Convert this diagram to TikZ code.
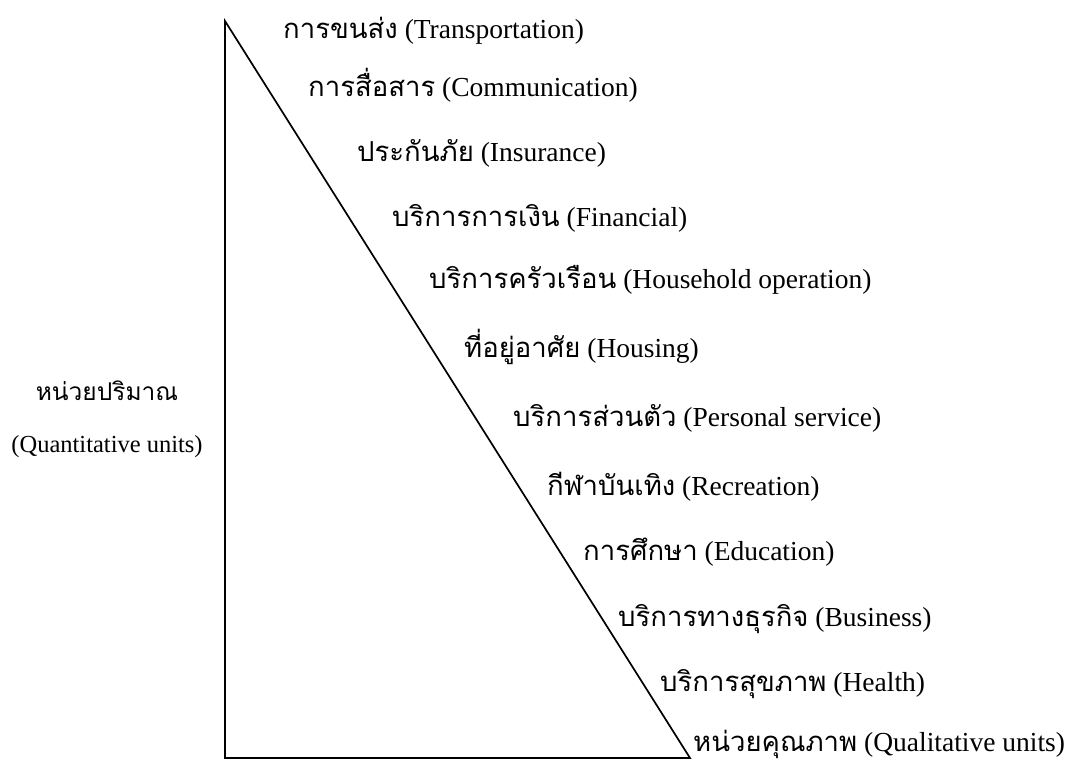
\documentclass[tikz,border=0pt]{standalone}
\usepackage{fontspec}
\setmainfont{Liberation Serif}
\newfontfamily\thai[Script=Thai]{Loma}
\begin{document}
\begin{tikzpicture}[x=1pt,y=-1pt,
  lbl/.style={anchor=base west,inner sep=0pt,font=\fontsize{27.5}{32}\selectfont},
  side/.style={anchor=base,inner sep=0pt,font=\fontsize{24.5}{28}\selectfont},
  edge/.style={line width=1.7pt,line join=miter}]
\useasboundingbox (0,0) rectangle (1074,763);
\coordinate (A) at (225,21);
\coordinate (B) at (225,758);
\coordinate (C) at (690,758);
\draw[edge] (A) -- (B) -- (C) -- cycle;
\node[lbl] (t1) at (283,38) {{\thai การขนส่ง} (Transportation)};
\node[lbl] (t2) at (308,96) {{\thai การสื่อสาร} (Communication)};
\node[lbl] (t3) at (357,161) {{\thai ประกันภัย} (Insurance)};
\node[lbl] (t4) at (392,226) {{\thai บริการการเงิน} (Financial)};
\node[lbl] (t5) at (429,288) {{\thai บริการครัวเรือน} (Household operation)};
\node[lbl] (t6) at (464,357) {{\thai ที่อยู่อาศัย} (Housing)};
\node[lbl] (t7) at (513,426) {{\thai บริการส่วนตัว} (Personal service)};
\node[lbl] (t8) at (547,495) {{\thai กีฬาบันเทิง} (Recreation)};
\node[lbl] (t9) at (583,560) {{\thai การศึกษา} (Education)};
\node[lbl] (t10) at (618,626) {{\thai บริการทางธุรกิจ} (Business)};
\node[lbl] (t11) at (660,691) {{\thai บริการสุขภาพ} (Health)};
\node[lbl] (t12) at (693,751) {{\thai หน่วยคุณภาพ} (Qualitative units)};
\node[side] (q1) at (107,400) {\thai หน่วยปริมาณ};
\node[side] (q2) at (107,452) {(Quantitative units)};
\end{tikzpicture}
\end{document}
